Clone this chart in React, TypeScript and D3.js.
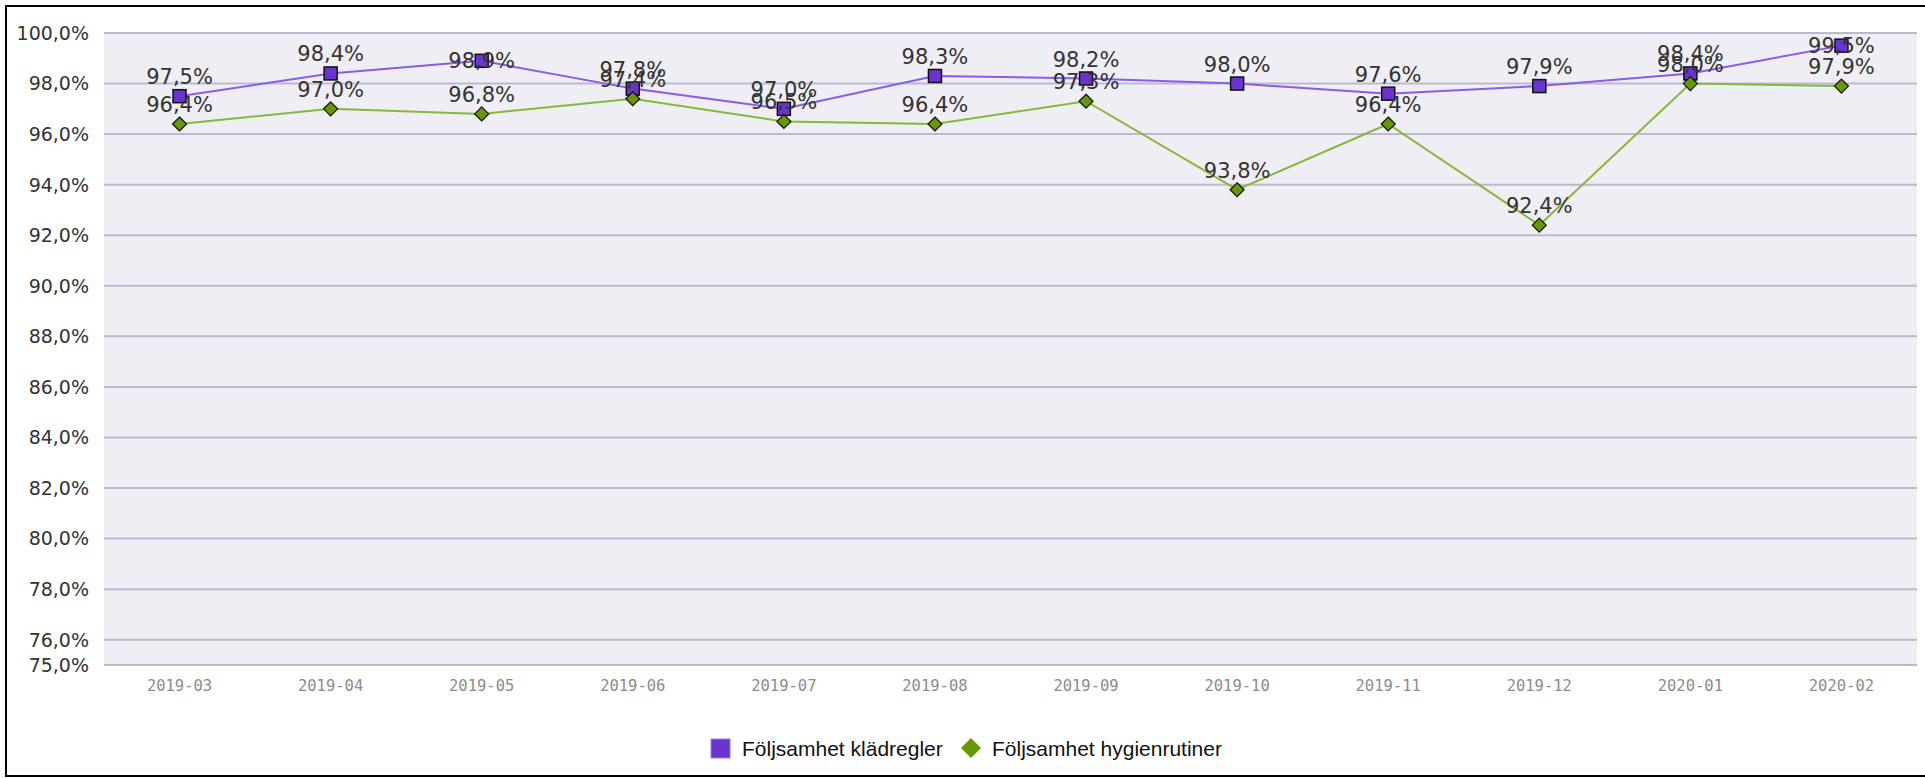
import * as d3 from "d3";

const months = [
  "2019-03", "2019-04", "2019-05", "2019-06", "2019-07", "2019-08",
  "2019-09", "2019-10", "2019-11", "2019-12", "2020-01", "2020-02",
];
const kladregler = [97.5, 98.4, 98.9, 97.8, 97.0, 98.3, 98.2, 98.0, 97.6, 97.9, 98.4, 99.5];
const hygienrutiner = [96.4, 97.0, 96.8, 97.4, 96.5, 96.4, 97.3, 93.8, 96.4, 92.4, 98.0, 97.9];
const yTicks = [100, 98, 96, 94, 92, 90, 88, 86, 84, 82, 80, 78, 76, 75];

const W = 1925;
const H = 778;
const plot = { left: 104, right: 1917, top: 33, bottom: 665 };

const fmt = (v: number) => v.toFixed(1).replace(".", ",") + "%";

const series = [
  { name: "Följsamhet klädregler", values: kladregler, line: "#8a5ce8", fill: "#6a35cf", shape: "square" },
  { name: "Följsamhet hygienrutiner", values: hygienrutiner, line: "#86b83a", fill: "#669900", shape: "diamond" },
];

export default function App() {
  const x = d3.scaleBand<string>().domain(months).range([plot.left, plot.right]);
  const cx = (m: string) => (x(m) ?? 0) + x.bandwidth() / 2;
  const y = d3.scaleLinear().domain([75, 100]).range([plot.bottom, plot.top]);

  const line = d3
    .line<number>()
    .x((_d, i) => cx(months[i]))
    .y((d) => y(d));

  // label above the point; if it would not fit under the plot top, center it on the point
  const labelY = (v: number) => {
    const py = y(v);
    return py - 12 - 16 < plot.top + 5 ? py + 7.5 : py - 12;
  };

  return (
    <div style={{ position: "absolute", left: 0, top: 0 }}>
      <svg width={W} height={H} style={{ display: "block" }}>
        <rect x={0} y={0} width={W} height={H} fill="#fff" />
        <rect x={6} y={6} width={W} height={770} fill="none" stroke="#000" strokeWidth={2} />
        <rect
          x={plot.left}
          y={plot.top}
          width={plot.right - plot.left}
          height={plot.bottom - plot.top}
          fill="#efeef4"
        />
        {yTicks.map((t) => (
          <g key={t}>
            <line
              x1={plot.left}
              x2={plot.right}
              y1={y(t)}
              y2={y(t)}
              stroke="#b9b9d2"
              strokeWidth={2}
            />
            <text
              x={89}
              y={y(t)}
              dy="0.36em"
              textAnchor="end"
              fontFamily="DejaVu Sans"
              fontSize={19}
              fill="#333"
            >
              {fmt(t)}
            </text>
          </g>
        ))}
        {months.map((m) => (
          <text
            key={m}
            x={cx(m)}
            y={691}
            textAnchor="middle"
            fontFamily="DejaVu Sans Mono"
            fontSize={15.5}
            fill="#8c8c8c"
          >
            {m}
          </text>
        ))}
        {series.map((s) => (
          <path
            key={s.name}
            d={line(s.values) ?? ""}
            fill="none"
            stroke={s.line}
            strokeWidth={2}
          />
        ))}
        {series.map((s) =>
          s.values.map((v, i) => {
            const px = cx(months[i]);
            const py = y(v);
            return s.shape === "square" ? (
              <rect
                key={s.name + i}
                x={px - 6.5}
                y={py - 6.5}
                width={13}
                height={13}
                fill={s.fill}
                stroke="#111"
                strokeWidth={1.5}
              />
            ) : (
              <path
                key={s.name + i}
                d={`M${px},${py - 7}L${px + 7},${py}L${px},${py + 7}L${px - 7},${py}Z`}
                fill={s.fill}
                stroke="#111"
                strokeWidth={1.2}
              />
            );
          })
        )}
        {series.map((s) =>
          s.values.map((v, i) => (
            <text
              key={"l" + s.name + i}
              x={cx(months[i])}
              y={labelY(v)}
              textAnchor="middle"
              fontFamily="DejaVu Sans"
              fontSize={21}
              fill="#333"
            >
              {fmt(v)}
            </text>
          ))
        )}
        <g fontFamily="Liberation Sans" fontSize={21} fill="#111">
          <rect x={711} y={739} width={19} height={19} fill="#6a35cf" stroke="#9b7ae0" strokeWidth={1} />
          <text x={742} y={748} dy="0.36em">Följsamhet klädregler</text>
          <path d="M971,738L981,748L971,758L961,748Z" fill="#669900" />
          <text x={992} y={748} dy="0.36em">Följsamhet hygienrutiner</text>
        </g>
      </svg>
    </div>
  );
}
